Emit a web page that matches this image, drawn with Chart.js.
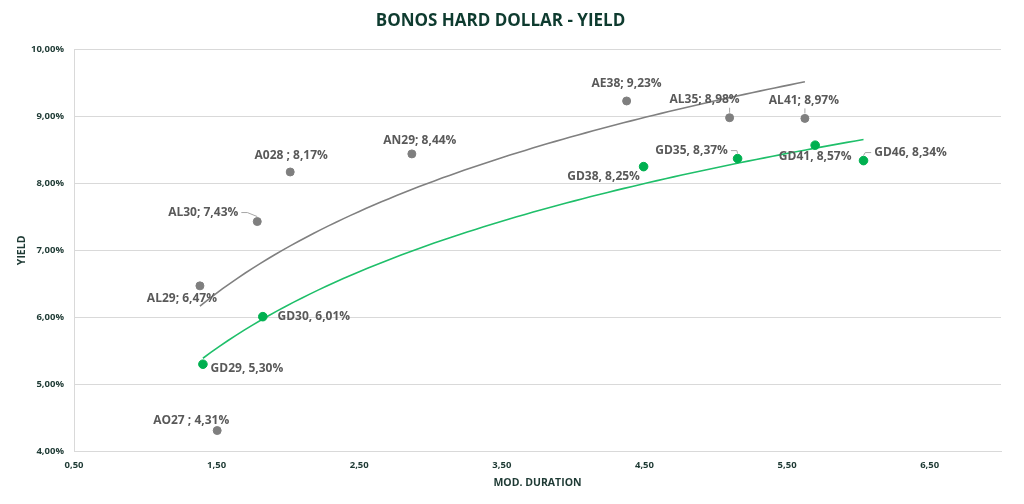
<!DOCTYPE html>
<html>
<head>
<meta charset="utf-8">
<title>Bonos Hard Dollar - Yield</title>
<script src="https://cdn.jsdelivr.net/npm/chart.js@4.4.1/dist/chart.umd.min.js"></script>
<style>
    html, body { margin: 0; padding: 0; background: #ffffff; }
    #wrap { width: 1024px; height: 504px; }
</style>
</head>
<body>
<div id="wrap"><canvas id="yieldChart" width="1024" height="504"></canvas></div>
<script>
// bonos ley argentina (gris)
const grayNames = ['AO27 ;', 'AL29;', 'AL30;', 'A028 ;', 'AN29;', 'AE38;', 'AL35;', 'AL41;'];
const grayDuration = [1.504, 1.383, 1.785, 2.016, 2.869, 4.375, 5.097, 5.625];
const grayYield = [4.31, 6.47, 7.43, 8.17, 8.44, 9.23, 8.98, 8.97];

// bonos ley NY (verde)
const greenNames = ['GD29,', 'GD30,', 'GD38,', 'GD35,', 'GD41,', 'GD46,'];
const greenDuration = [1.404, 1.824, 4.494, 5.153, 5.697, 6.036];
const greenYield = [5.30, 6.01, 8.25, 8.37, 8.57, 8.34];

const xTicks = [0.5, 1.5, 2.5, 3.5, 4.5, 5.5, 6.5];
const yTicks = [4, 5, 6, 7, 8, 9, 10];

// label placement (px from the point) and leader lines
const grayLabelPos = [[-26, -10], [-18, 13], [-54, -9], [1, -16], [8, -13], [0, -17], [-25, -18], [-1, -18]];
const grayLeader = [false, false, true, false, false, false, true, true];
const greenLabelPos = [[44, 4], [51, 0], [-40, 10], [-46, -8], [0, 11], [47, -8]];
const greenLeader = [false, false, false, true, false, true];

const GRAY = '#7f7f7f';
const GREEN = '#00b050';

function fmt(v) {
    return v.toFixed(2).replace('.', ',');
}

function toPoints(xs, ys) {
    return xs.map((x, i) => ({ x: x, y: ys[i] }));
}

// logarithmic trend line, like Excel's
function logTrend(xs, ys) {
    const n = xs.length;
    const lx = xs.map(Math.log);
    const mx = lx.reduce((a, b) => a + b, 0) / n;
    const my = ys.reduce((a, b) => a + b, 0) / n;
    let sxy = 0, sxx = 0;
    for (let i = 0; i < n; i++) {
        sxy += (lx[i] - mx) * (ys[i] - my);
        sxx += (lx[i] - mx) * (lx[i] - mx);
    }
    const b = sxy / sxx;
    const a = my - b * mx;
    const lo = Math.min(...xs), hi = Math.max(...xs);
    const pts = [];
    const steps = 80;
    for (let k = 0; k <= steps; k++) {
        const x = lo + (hi - lo) * k / steps;
        pts.push({ x: x, y: a + b * Math.log(x) });
    }
    return pts;
}

const labelPlugin = {
    id: 'pointLabels',
    afterDatasetsDraw(chart) {
        const ctx = chart.ctx;
        const groups = [
            { ds: 0, names: grayNames, ys: grayYield, pos: grayLabelPos, leader: grayLeader },
            { ds: 1, names: greenNames, ys: greenYield, pos: greenLabelPos, leader: greenLeader }
        ];
        ctx.save();
        ctx.font = 'bold 12px "Open Sans"';
        ctx.textAlign = 'center';
        ctx.textBaseline = 'middle';
        groups.forEach(g => {
            const meta = chart.getDatasetMeta(g.ds);
            meta.data.forEach((pt, i) => {
                const text = g.names[i] + ' ' + fmt(g.ys[i]) + '%';
                const cx = pt.x + g.pos[i][0];
                const cy = pt.y + g.pos[i][1];
                const w = ctx.measureText(text).width;
                if (g.leader[i]) {
                    ctx.strokeStyle = '#a6a6a6';
                    ctx.lineWidth = 1;
                    ctx.beginPath();
                    if (pt.x > cx - w / 2 && pt.x < cx + w / 2) {
                        ctx.moveTo(pt.x, cy + 8);
                        ctx.lineTo(pt.x, pt.y - 5);
                    } else {
                        const sx = pt.x > cx ? cx + w / 2 + 3 : cx - w / 2 - 3;
                        const ex = pt.x > cx ? Math.min(sx + 6, pt.x) : Math.max(sx - 6, pt.x);
                        ctx.moveTo(sx, cy);
                        ctx.lineTo(ex, cy);
                        ctx.lineTo(pt.x, pt.y - 5);
                    }
                    ctx.stroke();
                }
                ctx.fillStyle = '#595959';
                ctx.fillText(text, cx, cy);
            });
        });
        ctx.restore();
    }
};

const axisColor = '#1e3a34';
const tickFont = { family: 'Open Sans', size: 9.5, weight: 'bold' };
const titleFont = { family: 'Open Sans', size: 10.5, weight: 'bold' };

const ctx = document.getElementById('yieldChart').getContext('2d');
const yieldChart = new Chart(ctx, {
    type: 'scatter',
    data: {
        datasets: [
            {
                label: 'Ley Argentina',
                data: toPoints(grayDuration, grayYield),
                backgroundColor: GRAY,
                borderColor: GRAY,
                pointRadius: 4,
                order: 1
            },
            {
                label: 'Ley NY',
                data: toPoints(greenDuration, greenYield),
                backgroundColor: GREEN,
                borderColor: GREEN,
                pointRadius: 4.3,
                order: 1
            },
            {
                label: 'Tendencia Ley Argentina',
                data: logTrend(grayDuration, grayYield),
                showLine: true,
                borderColor: '#808080',
                borderWidth: 1.6,
                pointRadius: 0,
                order: 2
            },
            {
                label: 'Tendencia Ley NY',
                data: logTrend(greenDuration, greenYield),
                showLine: true,
                borderColor: '#1fbf6a',
                borderWidth: 1.6,
                pointRadius: 0,
                order: 2
            }
        ]
    },
    options: {
        responsive: false,
        animation: false,
        layout: { padding: { left: 0, right: 23, top: 0, bottom: 0 } },
        plugins: {
            legend: { display: false },
            tooltip: { enabled: false },
            title: {
                display: true,
                text: 'BONOS HARD DOLLAR - YIELD',
                color: '#0e3b2f',
                font: { family: 'Open Sans', size: 17, weight: 'bold' },
                padding: { top: 11, bottom: 18 }
            }
        },
        scales: {
            x: {
                type: 'linear',
                min: 0.5,
                max: 7.0,
                grid: { display: false, drawTicks: false },
                border: { display: true, color: '#d9d9d9' },
                ticks: {
                    color: axisColor,
                    font: tickFont,
                    padding: 8,
                    maxRotation: 0,
                    callback: v => fmt(v)
                },
                title: {
                    display: true,
                    text: 'MOD. DURATION',
                    color: axisColor,
                    font: titleFont,
                    padding: { top: 0, bottom: 15 }
                },
                afterBuildTicks: s => { s.ticks = xTicks.map(v => ({ value: v })); },
                afterFit: s => { s.height = 52.7; s.paddingLeft = 0; s.paddingRight = 0; }
            },
            y: {
                type: 'linear',
                min: 4,
                max: 10,
                grid: { color: '#d9d9d9', drawTicks: false },
                border: { display: true, color: '#d9d9d9' },
                ticks: {
                    color: axisColor,
                    font: tickFont,
                    padding: 10,
                    callback: v => fmt(v) + '%'
                },
                title: {
                    display: true,
                    text: 'YIELD',
                    color: axisColor,
                    font: titleFont,
                    padding: { top: 16, bottom: 0 }
                },
                afterBuildTicks: s => { s.ticks = yTicks.map(v => ({ value: v })); },
                afterFit: s => { s.width = 74; s.paddingTop = 0; s.paddingBottom = 0; }
            }
        }
    },
    plugins: [labelPlugin]
});
</script>
</body>
</html>
